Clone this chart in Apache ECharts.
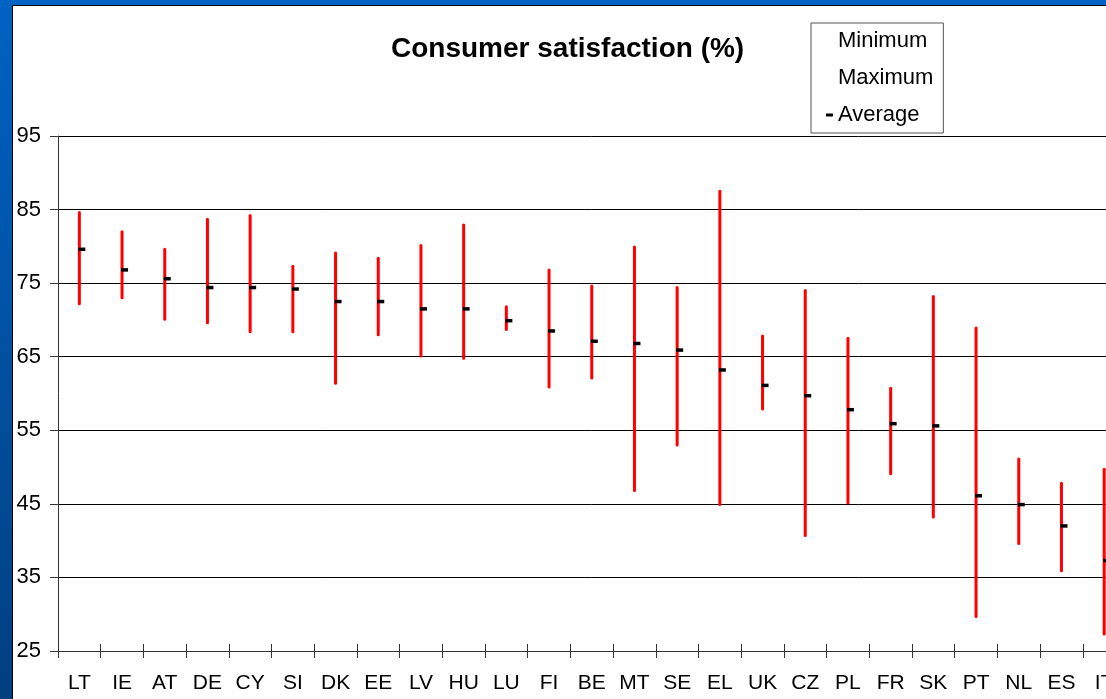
<!DOCTYPE html>
<html>
<head>
<meta charset="utf-8">
<title>Consumer satisfaction</title>
<script src="https://cdn.jsdelivr.net/npm/echarts@6/dist/echarts.min.js"></script>
<style>
  html, body { margin: 0; padding: 0; width: 1106px; height: 699px; overflow: hidden; }
  body { background: linear-gradient(to bottom, #0062c4, #003f80); position: relative; }
  /* plot runs past the right edge in the original, so the chart box is wider than the window */
  #chart {
    position: absolute; left: 12px; top: 5px; width: 1130px; height: 694px;
    border-left: 1px solid #000; border-top: 1px solid #000; background: #fff;
  }
</style>
</head>
<body>
<div id="chart"></div>
<script>
// Country codes, ordered by average satisfaction
const categories = ['LT', 'IE', 'AT', 'DE', 'CY', 'SI', 'DK', 'EE', 'LV', 'HU', 'LU', 'FI', 'BE',
    'MT', 'SE', 'EL', 'UK', 'CZ', 'PL', 'FR', 'SK', 'PT', 'NL', 'ES', 'IT'];
const minimum = [72.2, 73.0, 70.1, 69.6, 68.4, 68.4, 61.4, 68.0, 65.1, 64.8, 68.7, 60.9, 62.1,
    46.8, 53.0, 44.9, 57.9, 40.7, 45.1, 49.1, 43.2, 29.7, 39.6, 35.9, 27.3];
const maximum = [84.6, 82.0, 79.6, 83.7, 84.2, 77.3, 79.1, 78.4, 80.1, 82.9, 71.8, 76.8, 74.6,
    79.9, 74.4, 87.5, 67.8, 74.0, 67.5, 60.7, 73.2, 68.9, 51.1, 47.8, 49.7];
const average = [79.6, 76.8, 75.6, 74.4, 74.4, 74.2, 72.5, 72.5, 71.5, 71.5, 69.9, 68.5, 67.1,
    66.8, 65.9, 63.2, 61.1, 59.7, 57.8, 55.9, 55.6, 46.1, 44.9, 42.0, 37.3];
const yTicks = { min: 25, max: 95, interval: 10 };

const FONT = 'Liberation Sans, Arial, sans-serif';

const rangeData = categories.map((c, i) => [i, minimum[i], maximum[i]]);
const avgData = categories.map((c, i) => [i, average[i]]);

const chart = echarts.init(document.getElementById('chart'));

chart.setOption({
    animation: false,
    title: {
        text: 'Consumer satisfaction (%)',
        left: 373, top: 24,
        textStyle: { fontFamily: FONT, fontSize: 28, fontWeight: 'bold', color: '#000' },
    },
    legend: {
        orient: 'vertical',
        left: 798, top: 17,
        padding: [7, 10, 7, 15],
        itemGap: 15,
        itemWidth: 7, itemHeight: 3,
        borderColor: '#555', borderWidth: 1,
        textStyle: { fontFamily: FONT, fontSize: 22, lineHeight: 22, color: '#000' },
        data: [
            { name: 'Minimum', icon: 'rect', itemStyle: { color: 'rgba(0,0,0,0)', opacity: 0 } },
            { name: 'Maximum', icon: 'rect', itemStyle: { color: 'rgba(0,0,0,0)', opacity: 0 } },
            { name: 'Average', icon: 'rect', itemStyle: { color: '#000' } },
        ],
        selectedMode: false,
    },
    grid: { left: 45, top: 130, bottom: 49, width: 1067.5 },
    xAxis: [{
        type: 'category',
        data: categories,
        boundaryGap: true,
        axisLine: { lineStyle: { color: '#333', width: 1 } },
        axisTick: { show: true, interval: 0, length: 7, lineStyle: { color: '#333' } },
        axisLabel: { interval: 0, margin: 22, fontFamily: FONT, fontSize: 21, color: '#000' },
        splitLine: { show: false },
    }, {
        // second copy only for the inward half of the crossing ticks
        type: 'category',
        data: categories,
        position: 'bottom',
        boundaryGap: true,
        axisLine: { show: false },
        axisTick: { show: true, inside: true, interval: 0, length: 7, lineStyle: { color: '#333' } },
        axisLabel: { show: false },
        splitLine: { show: false },
    }],
    yAxis: {
        type: 'value',
        min: yTicks.min, max: yTicks.max, interval: yTicks.interval,
        axisLine: { show: true, lineStyle: { color: '#333' } },
        axisTick: { show: true, length: 8, lineStyle: { color: '#333' } },
        axisLabel: { margin: 17, fontFamily: FONT, fontSize: 22, color: '#000' },
        splitLine: { show: true, lineStyle: { color: '#000', width: 1 } },
    },
    series: [
        {
            name: 'Range',
            type: 'custom',
            data: rangeData,
            encode: { x: 0, y: [1, 2] },
            renderItem: (params, api) => {
                const lo = api.coord([api.value(0), api.value(1)]);
                const hi = api.coord([api.value(0), api.value(2)]);
                return {
                    type: 'line',
                    shape: { x1: lo[0], y1: lo[1], x2: hi[0], y2: hi[1] },
                    style: { stroke: '#ff0000', lineWidth: 3, lineCap: 'round' },
                };
            },
            z: 3,
        },
        { name: 'Minimum', type: 'scatter', data: minimum, symbolSize: 0, silent: true },
        { name: 'Maximum', type: 'scatter', data: maximum, symbolSize: 0, silent: true },
        {
            name: 'Average',
            type: 'custom',
            data: avgData,
            encode: { x: 0, y: 1 },
            itemStyle: { color: '#000' },
            renderItem: (params, api) => {
                const p = api.coord([api.value(0), api.value(1)]);
                return {
                    type: 'rect',
                    shape: { x: p[0] - 1, y: p[1] - 1.75, width: 7, height: 3.5 },
                    style: { fill: '#000' },
                };
            },
            z: 4,
        },
    ],
});
</script>
</body>
</html>
